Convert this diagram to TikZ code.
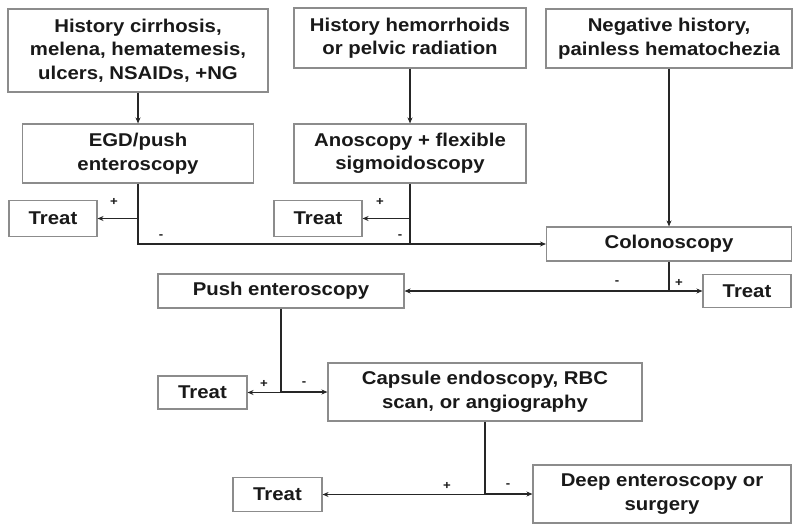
\documentclass[tikz,border=0pt]{standalone}
\usepackage{fontspec}
\setmainfont{Liberation Sans}[FakeStretch=1.1]
\usetikzlibrary{arrows.meta}
\begin{document}
\begin{tikzpicture}[x=1pt,y=-1pt,
  box/.style={draw=black!45, line width=1.1pt, fill=white, align=center,
    font=\fontsize{18.5}{23.5}\selectfont\bfseries, text=black!90, inner sep=0pt},
  line/.style={line width=1.8pt, draw=black!85},
  conn/.style={line width=1.8pt, draw=black!85, -{Stealth[length=6pt,width=5pt]}},
  lbl/.style={font=\fontsize{12}{13}\selectfont\bfseries, inner sep=0pt, text=black!90}]
\useasboundingbox (0,0) rectangle (800,532);

\node[box, minimum width=260pt, minimum height=83pt] (B1) at (138,50.5)
  {History cirrhosis,\\melena, hematemesis,\\ulcers, NSAIDs, +NG};
\node[box, minimum width=232pt, minimum height=60pt] (B2) at (410,38)
  {History hemorrhoids\\or pelvic radiation};
\node[box, minimum width=246pt, minimum height=59pt] (B3) at (669,38.5)
  {Negative history,\\painless hematochezia};
\node[box, minimum width=231pt, minimum height=59pt] (B4) at (138,153.5)
  {EGD/push\\enteroscopy};
\node[box, minimum width=232pt, minimum height=59pt] (B5) at (410,153.5)
  {Anoscopy + flexible\\sigmoidoscopy};
\node[box, minimum width=88pt, minimum height=36pt] (T1) at (53,218.5) {Treat};
\node[box, minimum width=88pt, minimum height=36pt] (T2) at (318,218.5) {Treat};
\node[box, minimum width=245pt, minimum height=34pt] (C) at (669,244) {Colonoscopy};
\node[box, minimum width=246pt, minimum height=34pt] (P) at (281,291) {Push enteroscopy};
\node[box, minimum width=88pt, minimum height=33pt] (T3) at (747,291) {Treat};
\node[box, minimum width=89pt, minimum height=33pt] (T4) at (202.5,392.5) {Treat};
\node[box, minimum width=314pt, minimum height=58pt] (Cap) at (485,392)
  {Capsule endoscopy, RBC\\scan, or angiography};
\node[box, minimum width=89pt, minimum height=34pt] (T5) at (277.5,494.5) {Treat};
\node[box, minimum width=258pt, minimum height=58pt] (D) at (662,494)
  {Deep enteroscopy or\\surgery};

% connectors
\draw[conn] (B1.south) -- (B4.north);
\draw[conn] (B2.south) -- (B5.north);
\draw[conn] (B3.south) -- (C.north);
\draw[conn] (B4.south) |- (C.west);
\draw[conn] (B4.south |- T1.east) -- (T1.east);
\draw[line] (B5.south) -- (B5.south |- C.west);
\draw[conn] (B5.south |- T2.east) -- (T2.east);
\draw[line] (C.south) -- (C.south |- P.east);
\draw[conn] (C.south |- P.east) -- (P.east);
\draw[conn] (C.south |- T3.west) -- (T3.west);
\draw[line] (P.south) -- (P.south |- T4.east);
\draw[conn] (P.south |- T4.east) -- (T4.east);
\draw[conn] (P.south |- Cap.west) -- (Cap.west);
\draw[line] (Cap.south) -- (Cap.south |- T5.east);
\draw[conn] (Cap.south |- T5.east) -- (T5.east);
\draw[conn] (Cap.south |- D.west) -- (D.west);

% labels
\node[lbl] (p1) at (114,202) {+};
\node[lbl] (m1) at (161,237) {-};
\node[lbl] (p2) at (380,202) {+};
\node[lbl] (m2) at (400,237) {-};
\node[lbl] (m3) at (617,283) {-};
\node[lbl] (p3) at (679,283) {+};
\node[lbl] (p4) at (264,384) {+};
\node[lbl] (m4) at (304,384) {-};
\node[lbl] (p5) at (447,486) {+};
\node[lbl] (m5) at (508,486) {-};
\end{tikzpicture}
\end{document}
